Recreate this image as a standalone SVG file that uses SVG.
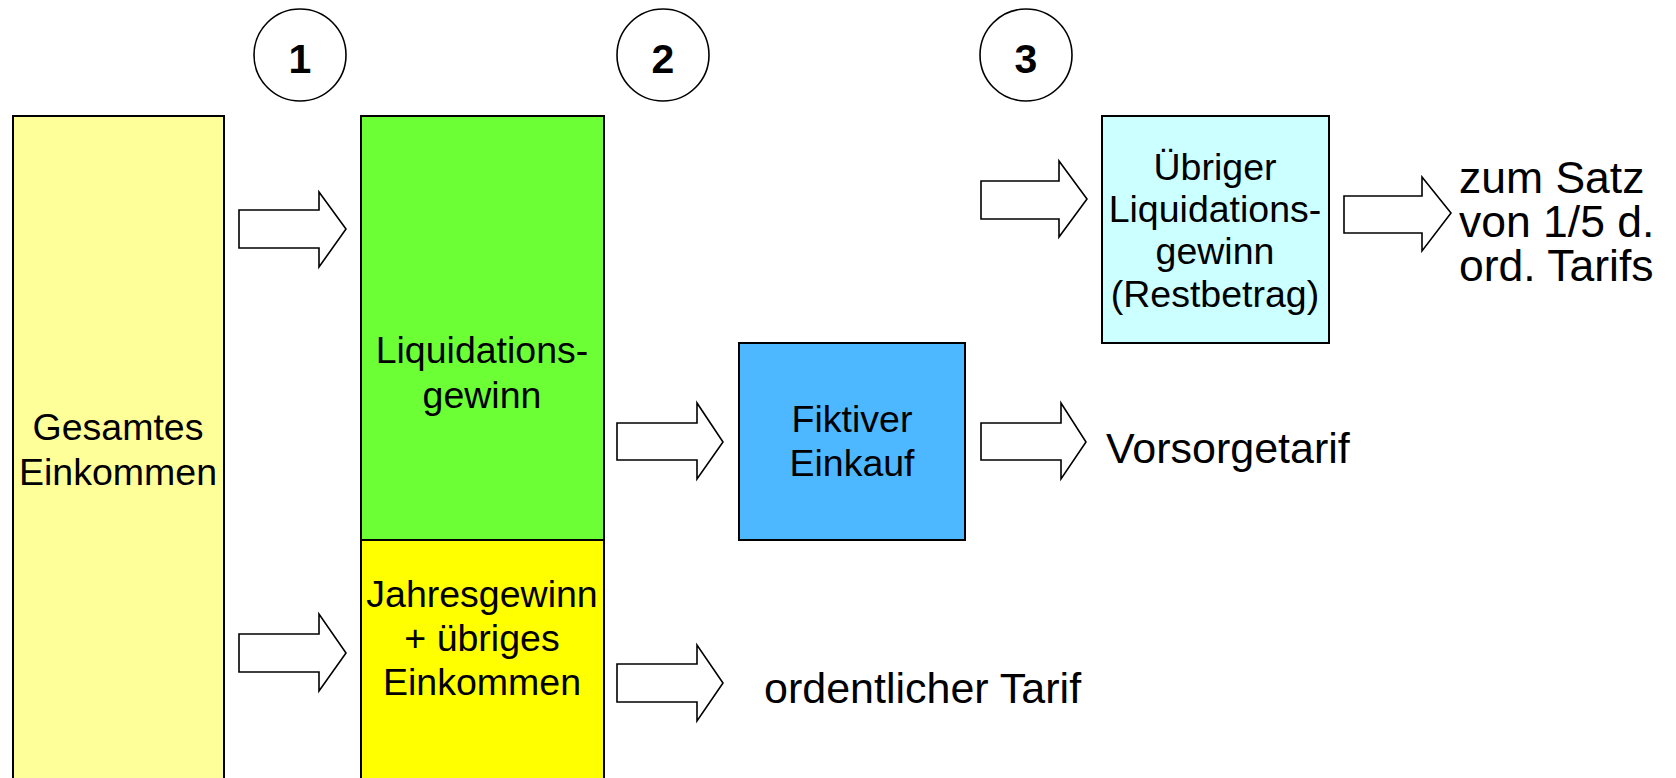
<svg xmlns="http://www.w3.org/2000/svg" width="1676" height="778" viewBox="0 0 1676 778">
<style>
.box{stroke:#000;stroke-width:2}
.t{font-family:"Liberation Sans",Arial,sans-serif;font-size:37.5px;fill:#000;text-anchor:middle}
.big{font-family:"Liberation Sans",Arial,sans-serif;font-size:43px;fill:#000}
.sz{font-family:"Liberation Sans",Arial,sans-serif;font-size:44.5px;fill:#000}
.num{font-family:"Liberation Sans",Arial,sans-serif;font-size:41px;font-weight:bold;fill:#000;text-anchor:middle}
.circ{fill:#fff;stroke:#000;stroke-width:1.6}
.arr{fill:#fff;stroke:#000;stroke-width:1.6;stroke-linejoin:miter}
</style>
<rect width="1676" height="778" fill="#fff"/>
<g id="step1"><circle class="circ" cx="300" cy="55" r="46"/><text class="num" x="300" y="73">1</text></g>
<g id="step2"><circle class="circ" cx="663" cy="55" r="46"/><text class="num" x="663" y="73">2</text></g>
<g id="step3"><circle class="circ" cx="1026" cy="55" r="46"/><text class="num" x="1026" y="73">3</text></g>
<g id="gesamtes">
<rect class="box" x="13" y="116" width="211" height="680" fill="#FFFF99"/>
<text class="t" x="118" y="440">Gesamtes</text>
<text class="t" x="118" y="485">Einkommen</text>
</g>
<g id="liquidationsgewinn">
<rect class="box" x="361" y="116" width="243" height="424" fill="#6CFF36"/>
<text class="t" x="482" y="363">Liquidations-</text>
<text class="t" x="482" y="408">gewinn</text>
</g>
<g id="jahresgewinn">
<rect class="box" x="361" y="540" width="243" height="256" fill="#FFFF00"/>
<text class="t" x="482" y="607">Jahresgewinn</text>
<text class="t" x="482" y="651">+ übriges</text>
<text class="t" x="482" y="695">Einkommen</text>
</g>
<g id="fiktiver">
<rect class="box" x="739" y="343" width="226" height="197" fill="#4DB8FF"/>
<text class="t" x="852" y="432">Fiktiver</text>
<text class="t" x="852" y="476">Einkauf</text>
</g>
<g id="uebriger">
<rect class="box" x="1102" y="116" width="227" height="227" fill="#CCFFFF"/>
<text class="t" x="1215" y="180">Übriger</text>
<text class="t" x="1215" y="222">Liquidations-</text>
<text class="t" x="1215" y="264">gewinn</text>
<text class="t" x="1215" y="307">(Restbetrag)</text>
</g>
<g id="vorsorgetarif"><text class="big" x="1106" y="463">Vorsorgetarif</text></g>
<g id="ordentlicher"><text class="big" x="764" y="703">ordentlicher Tarif</text></g>
<g id="zumsatz">
<text class="sz" x="1459" y="193">zum Satz</text>
<text class="sz" x="1459" y="237">von 1/5 d.</text>
<text class="sz" x="1459" y="281">ord. Tarifs</text>
</g>
<g id="connectors">
<polygon class="arr" points="239,210 319,210 319,192 346,229 319,267 319,248 239,248"/>
<polygon class="arr" points="239,634 319,634 319,614 346,653 319,691 319,672 239,672"/>
<polygon class="arr" points="617,423 697,423 697,403 723,442 697,479 697,460 617,460"/>
<polygon class="arr" points="981,423 1061,423 1061,403 1086,442 1061,479 1061,460 981,460"/>
<polygon class="arr" points="617,664 697,664 697,645 723,683 697,721 697,702 617,702"/>
<polygon class="arr" points="981,181 1059,181 1059,161 1087,199 1059,237 1059,219 981,219"/>
<polygon class="arr" points="1344,196 1422,196 1422,177 1451,213 1422,251 1422,233 1344,233"/>
</g>
</svg>
